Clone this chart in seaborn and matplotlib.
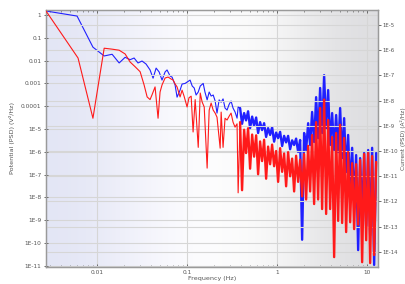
import numpy as np
import pandas as pd
import seaborn as sns
import matplotlib
matplotlib.use("Agg")
import matplotlib.pyplot as plt
from matplotlib.ticker import FixedLocator, FixedFormatter, LogLocator, NullFormatter

# potential PSD (blue, left axis) - low frequency part
blue_freq = [0.00271, 0.0060, 0.0090, 0.0120, 0.0147, 0.0176, 0.0205, 0.0233, 0.0258, 0.0285,
             0.0316, 0.035, 0.0388, 0.0419, 0.0453, 0.0489, 0.0527, 0.057, 0.0599, 0.0648,
             0.0681, 0.0736, 0.0774, 0.0836, 0.0880, 0.095, 0.108, 0.114, 0.120, 0.126,
             0.133, 0.140, 0.151, 0.158, 0.167, 0.176, 0.185, 0.195, 0.205, 0.215,
             0.227, 0.239, 0.251, 0.264, 0.278, 0.293, 0.308, 0.324, 0.341, 0.359, 0.369]
blue_psd = [1.5, 0.90, 0.039, 0.016, 0.019, 0.0079, 0.014, 0.011, 0.013, 0.0079,
            0.0096, 0.0071, 0.0039, 0.0017, 0.0047, 0.0032, 0.0014, 0.0032, 0.0039, 0.0021,
            0.0019, 8.5e-4, 2.5e-4, 5.1e-4, 9.4e-4, 1.0e-3, 0.0014, 7.7e-4, 6.3e-4, 3.1e-4,
            4.2e-4, 7.7e-4, 1.0e-3, 4.2e-4, 1.9e-4, 4.2e-4, 2.8e-4, 3.1e-4, 1.7e-4, 5.0e-5,
            1.9e-4, 1.5e-4, 2.1e-4, 8.3e-5, 6.8e-5, 1.2e-4, 1.7e-4, 8.3e-5, 5.6e-5, 3.0e-5, 9.2e-5]

# current PSD (red, right axis) - low frequency part
red_freq = [0.00271, 0.00615, 0.0090, 0.0120, 0.0147, 0.0176, 0.0205, 0.0233, 0.0265, 0.0301,
            0.0333, 0.036, 0.0388, 0.0408, 0.0441, 0.0476, 0.0501, 0.0527, 0.057, 0.0615,
            0.0664, 0.0699, 0.0736, 0.0774, 0.0836, 0.0880, 0.0926, 0.100, 0.105, 0.111,
            0.1166, 0.123, 0.133, 0.140, 0.147, 0.155, 0.167, 0.176, 0.185, 0.195,
            0.205, 0.215, 0.233, 0.239, 0.251, 0.264, 0.278, 0.293, 0.308, 0.324,
            0.341, 0.359, 0.369]
red_psd = [3.6e-5, 4.9e-7, 2.0e-9, 1.2e-6, 1.1e-6, 1.0e-6, 7.1e-7, 3.4e-7, 2.2e-7, 1.4e-7,
           4.2e-8, 1.4e-8, 1.1e-8, 1.7e-8, 3.5e-8, 2.0e-9, 2.2e-8, 4.2e-8, 7.9e-8, 8.6e-8,
           7.2e-8, 6.6e-8, 4.6e-8, 3.5e-8, 1.4e-8, 2.6e-8, 1.5e-8, 5.6e-9, 1.3e-8, 1.5e-8,
           5.7e-10, 1.1e-8, 1.4e-10, 2.0e-8, 8.8e-9, 5.6e-9, 2.1e-11, 4.2e-9, 8.0e-9, 4.2e-9,
           3.2e-9, 2.2e-9, 1.3e-10, 3.5e-9, 1.4e-10, 2.0e-9, 1.7e-9, 2.4e-9, 3.2e-9, 1.4e-9,
           8.9e-10, 1.2e-9, 2.2e-12]

# dense high frequency part, shared frequency bins
hi_freq = [0.388, 0.408, 0.430, 0.452, 0.476, 0.501, 0.528, 0.555, 0.585, 0.615,
           0.647, 0.681, 0.717, 0.755, 0.794, 0.836, 0.880, 0.926, 0.975, 1.026,
           1.080, 1.137, 1.196, 1.259, 1.325, 1.395, 1.468, 1.545, 1.626, 1.711,
           1.801, 1.896, 1.995, 2.100, 2.211, 2.326, 2.448, 2.577, 2.712, 2.854,
           3.004, 3.162, 3.328, 3.503, 3.687, 3.880, 4.084, 4.299, 4.524, 4.762,
           5.012, 5.275, 5.552, 5.843, 6.150, 6.473, 6.813, 7.171, 7.547, 7.943,
           8.360, 8.799, 9.261, 9.747, 10.26, 10.80, 11.36, 11.96, 12.59]
blue_hi = [8.3e-5, 1.7e-5, 5.0e-5, 2.4e-5, 6.0e-5, 1.1e-5, 3.5e-5, 1.4e-5, 3.2e-5, 6.7e-6,
           2.0e-5, 9.0e-6, 1.8e-5, 4.5e-6, 1.1e-5, 5.5e-6, 1.2e-5, 2.8e-6, 7.0e-6, 4.0e-6,
           7.5e-6, 1.8e-6, 5.0e-6, 2.6e-6, 5.0e-6, 1.3e-6, 3.2e-6, 2.0e-6, 3.8e-6, 1.0e-6,
           3.3e-6, 1.4e-10, 6.7e-6, 1.2e-6, 1.8e-5, 2.0e-6, 5.6e-5, 2.7e-6, 2.5e-4, 4.0e-6,
           6.3e-4, 6.7e-6, 2.3e-3, 1.1e-5, 5.1e-4, 2.0e-6, 5.0e-5, 1.2e-6, 4.1e-5, 9.8e-7,
           8.3e-5, 5.3e-7, 3.0e-5, 1.3e-7, 5.5e-6, 2.1e-8, 1.5e-6, 6.3e-9, 7.2e-7, 4.9e-11,
           5.3e-7, 1.2e-9, 8.9e-7, 5.6e-10, 1.2e-6, 2.2e-10, 1.5e-6, 1.1e-11, 8.9e-7]
red_hi = [1.4e-9, 2.8e-12, 7.0e-10, 8.3e-11, 8.0e-10, 2.0e-11, 4.5e-10, 6.0e-11, 4.2e-10, 1.2e-11,
          2.4e-10, 4.0e-11, 2.8e-10, 8.0e-12, 1.5e-10, 3.0e-11, 1.8e-10, 2.5e-11, 1.0e-10, 6.0e-12,
          1.3e-10, 1.5e-11, 8.0e-11, 4.0e-12, 9.0e-11, 1.0e-11, 5.0e-11, 2.5e-12, 6.5e-11, 6.0e-12,
          4.5e-11, 1.6e-12, 7.6e-11, 1.2e-12, 1.6e-10, 2.5e-12, 4.3e-10, 7.9e-13, 1.4e-9, 1.2e-12,
          5.1e-9, 5.0e-13, 1.1e-8, 3.2e-13, 1.7e-9, 5.0e-13, 3.6e-10, 6.2e-15, 5.2e-10, 1.7e-13,
          1.1e-9, 1.4e-13, 3.3e-10, 6.1e-14, 9.1e-11, 1.5e-13, 3.3e-11, 8.0e-14, 3.0e-11, 1.2e-13,
          4.4e-11, 3.9e-15, 7.6e-11, 2.9e-14, 8.3e-11, 3.6e-15, 6.3e-11, 7.5e-15, 3.7e-11]

x_ticks = [0.01, 0.1, 1, 10]
x_labels = ["0.01", "0.1", "1", "10"]
left_ticks = [1, 0.1, 0.01, 1e-3, 1e-4, 1e-5, 1e-6, 1e-7, 1e-8, 1e-9, 1e-10, 1e-11]
left_labels = ["1", "0.1", "0.01", "0.001", "0.0001", "1E-5", "1E-6", "1E-7",
               "1E-8", "1E-9", "1E-10", "1E-11"]
right_ticks = [1e-5, 1e-6, 1e-7, 1e-8, 1e-9, 1e-10, 1e-11, 1e-12, 1e-13, 1e-14]
right_labels = ["1E-5", "1E-6", "1E-7", "1E-8", "1E-9", "1E-10", "1E-11",
                "1E-12", "1E-13", "1E-14"]

# low part runs into the first dense bin so the trace is continuous
blue_lo_df = pd.DataFrame({"f": blue_freq + hi_freq[:1], "psd": blue_psd + blue_hi[:1]})
blue_hi_df = pd.DataFrame({"f": hi_freq, "psd": blue_hi})
red_lo_df = pd.DataFrame({"f": red_freq + hi_freq[:1], "psd": red_psd + red_hi[:1]})
red_hi_df = pd.DataFrame({"f": hi_freq, "psd": red_hi})

sns.set_style("ticks")
plt.rcParams["font.family"] = ["DejaVu Sans"]

fig = plt.figure(figsize=(4.06, 2.84), dpi=100)
ax = fig.add_axes([46 / 406, 17 / 284, 332 / 406, 257 / 284])
ax.set_xscale("log")
ax.set_yscale("log")
ax.set_xlim(0.00271, 13.2)
ax.set_ylim(10 ** -11.05, 10 ** 0.22)
ax.set_autoscale_on(False)

# soft background gradient of the plot area
grad = np.array([[[0.89, 0.90, 0.96], [0.96, 0.96, 0.99], [1.0, 1.0, 1.0],
                  [0.97, 0.97, 0.97], [0.87, 0.87, 0.88]]])
ax.imshow(grad, extent=[0, 1, 0, 1], transform=ax.transAxes, aspect="auto",
          interpolation="bicubic", zorder=0)

blue = "#2020ff"
red = "#ff1a1a"
sns.lineplot(data=blue_lo_df, x="f", y="psd", ax=ax, color=blue, linewidth=0.8,
             estimator=None, sort=False, zorder=3)
sns.lineplot(data=blue_hi_df, x="f", y="psd", ax=ax, color=blue, linewidth=1.7,
             estimator=None, sort=False, zorder=3)

ax2 = ax.twinx()
ax2.set_yscale("log")
ax2.set_ylim(10 ** -14.6, 10 ** -4.405)
sns.lineplot(data=red_lo_df, x="f", y="psd", ax=ax2, color=red, linewidth=0.8,
             estimator=None, sort=False, zorder=3)
sns.lineplot(data=red_hi_df, x="f", y="psd", ax=ax2, color=red, linewidth=1.7,
             estimator=None, sort=False, zorder=3)

gc = "#d6d6d6"
ax.xaxis.set_major_locator(FixedLocator(x_ticks))
ax.xaxis.set_major_formatter(FixedFormatter(x_labels))
ax.xaxis.set_minor_locator(LogLocator(base=10, subs=np.arange(2, 10), numticks=20))
ax.xaxis.set_minor_formatter(NullFormatter())
ax.yaxis.set_major_locator(FixedLocator(left_ticks))
ax.yaxis.set_major_formatter(FixedFormatter(left_labels))
ax.yaxis.set_minor_locator(FixedLocator([]))
ax2.yaxis.set_major_locator(FixedLocator(right_ticks))
ax2.yaxis.set_major_formatter(FixedFormatter(right_labels))
ax2.yaxis.set_minor_locator(FixedLocator([]))

ax.grid(True, which="major", color=gc, linewidth=0.8, zorder=1)
ax2.grid(True, axis="y", which="major", color=gc, linewidth=0.8)
ax2.set_axisbelow(True)

for a in (ax, ax2):
    for s in a.spines.values():
        s.set_color("#9a9a9a")
        s.set_linewidth(0.9)

ax.tick_params(axis="x", which="major", direction="in", length=2.5, top=True,
               labelsize=4.2, colors="#555555", pad=2, width=0.6)
ax.tick_params(axis="x", which="minor", direction="in", length=1.3, top=True,
               colors="#666666", width=0.5)
ax.tick_params(axis="y", direction="inout", length=2.5, labelsize=4.2,
               colors="#555555", pad=2, width=0.6)
ax2.tick_params(axis="y", direction="out", length=2.0, labelsize=3.9,
                colors="#555555", pad=1.5, width=0.6)

ax.set_xlabel("Frequency (Hz)", fontsize=4.6, color="#555555", labelpad=1)
ax.set_ylabel("Potential (PSD) (V\u00b2/Hz)", fontsize=4.6, color="#555555", labelpad=4)
ax2.set_ylabel("Current (PSD) (A\u00b2/Hz)", fontsize=4.2, color="#555555",
               rotation=90, va="center", ha="center")
ax2.yaxis.set_label_coords(1.076, 0.5)

fig.savefig("out.png", dpi=100)
